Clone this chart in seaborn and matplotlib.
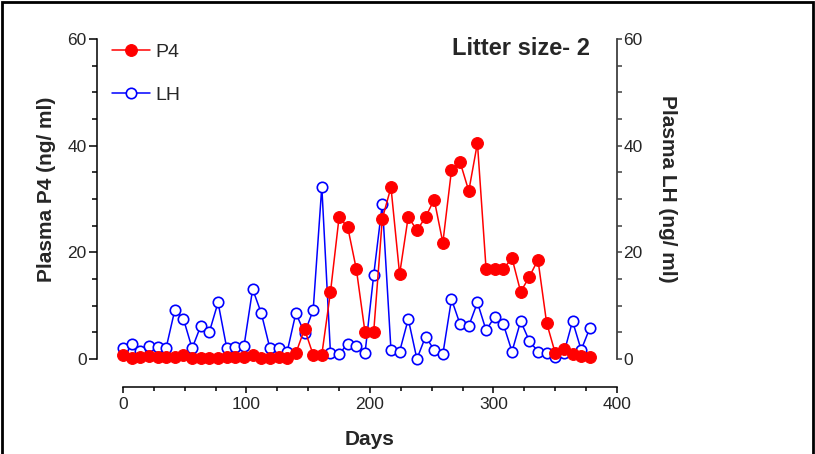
import matplotlib
matplotlib.use("Agg")
import matplotlib.pyplot as plt
from matplotlib.patches import Rectangle
import seaborn as sns

# sampling days (weekly)
days = [0, 7, 14, 21, 28, 35, 42, 49, 56, 63, 70, 77, 84, 91, 98, 105, 112,
        119, 126, 133, 140, 147, 154, 161, 168, 175, 182, 189, 196, 203, 210,
        217, 224, 231, 238, 245, 252, 259, 266, 273, 280, 287, 294, 301, 308,
        315, 322, 329, 336, 343, 350, 357, 364, 371, 378]

# plasma P4 (ng/ml)
p4 = [0.8, 0.1, 0.3, 0.5, 0.4, 0.3, 0.3, 0.7, 0.2, 0.2,
      0.2, 0.1, 0.3, 0.3, 0.4, 0.7, 0.2, 0.2, 0.3, 0.2,
      1.1, 5.6, 0.8, 0.8, 12.5, 26.6, 24.7, 16.8, 5.0, 5.0,
      26.3, 32.2, 15.9, 26.7, 24.1, 26.6, 29.9, 21.8, 35.4, 36.9,
      31.5, 40.5, 16.9, 16.8, 16.9, 18.9, 12.6, 15.4, 18.6, 6.8,
      1.1, 1.9, 1.0, 0.5, 0.3]

# plasma LH (ng/ml)
lh = [2.0, 2.9, 1.5, 2.4, 2.3, 2.1, 9.2, 7.5, 2.0, 6.2,
      5.1, 10.6, 2.1, 2.3, 2.4, 13.1, 8.6, 2.0, 2.0, 1.4,
      8.6, 4.9, 9.1, 32.3, 1.2, 0.9, 2.9, 2.4, 1.1, 15.7,
      29.1, 1.7, 1.4, 7.5, 0.0, 4.2, 1.7, 0.9, 11.2, 6.5,
      6.2, 10.6, 5.4, 7.9, 6.5, 1.4, 7.1, 3.4, 1.4, 1.2,
      0.3, 1.1, 7.1, 1.7, 5.8]

x_major = [0, 100, 200, 300, 400]
x_minor = [25, 50, 75, 125, 150, 175, 225, 250, 275, 325, 350, 375]
y_major = [0, 20, 40, 60]
y_minor = [5, 10, 15, 25, 30, 35, 45, 50, 55]

sns.set_style("ticks")
plt.rcParams["font.family"] = ["Liberation Sans", "DejaVu Sans"]

W, H = 815, 454
fig = plt.figure(figsize=(W / 100, H / 100), dpi=100)
ax = fig.add_axes([97 / W, 1 - 387 / H, 520 / W, 348 / H])

sns.lineplot(x=days, y=lh, ax=ax, color="#0000FF", lw=1.1, marker="o",
             markersize=7.5, markerfacecolor="white", markeredgecolor="#0000FF",
             markeredgewidth=1.2, label="LH")
sns.lineplot(x=days, y=p4, ax=ax, color="#FF0000", lw=1.1, marker="o",
             markersize=8.5, markerfacecolor="#FF0000", markeredgecolor="#FF0000",
             label="P4")

ax.set_xlim(-21, 400)
ax.set_ylim(-5.25, 60)
ax.set_xticks(x_major)
ax.set_xticks(x_minor, minor=True)
ax.set_yticks(y_major)
ax.set_yticks(y_minor, minor=True)

for s in ["top", "right"]:
    ax.spines[s].set_visible(False)
ax.spines["left"].set_bounds(0, 60)
ax.spines["bottom"].set_bounds(0, 400)
for s in ["left", "bottom"]:
    ax.spines[s].set_linewidth(1.1)
    ax.spines[s].set_color("black")

ax.tick_params(axis="y", which="major", direction="out", length=5.5, width=1.1,
               labelsize=12.5, pad=2, color="black")
ax.tick_params(axis="y", which="minor", direction="out", length=3.6, width=1.1,
               color="black")
ax.tick_params(axis="x", which="major", direction="out", length=4.5, width=1.1,
               labelsize=12.5, pad=3, color="black")
ax.tick_params(axis="x", which="minor", direction="out", length=3, width=1.1,
               color="black")

ax.set_xlabel("Days", fontsize=15, fontweight="bold", va="top")
ax.xaxis.set_label_coords(0.525, -0.124)
ax.set_ylabel("Plasma P4 (ng/ ml)", fontsize=15, fontweight="bold", va="center")
ax.yaxis.set_label_coords(-0.098, 0.569)

# right axis for LH (same scale)
ax2 = ax.twinx()
ax2.set_ylim(-5.25, 60)
ax2.set_yticks(y_major)
ax2.set_yticks(y_minor, minor=True)
for s in ["top", "left", "bottom"]:
    ax2.spines[s].set_visible(False)
ax2.spines["right"].set_bounds(0, 60)
ax2.spines["right"].set_linewidth(1.3)
ax2.spines["right"].set_color("#404040")
ax2.tick_params(axis="y", which="major", direction="out", length=3.5, width=1.1,
                labelsize=12.5, pad=1, color="#404040")
ax2.tick_params(axis="y", which="minor", direction="out", length=3.5, width=1.1,
                color="#404040")
ax2.set_ylabel("Plasma LH (ng/ ml)", fontsize=15, fontweight="bold",
               rotation=-90, va="center")
ax2.yaxis.set_label_coords(1.098, 0.569)

handles, labels = ax.get_legend_handles_labels()
order = [labels.index("P4"), labels.index("LH")]
ax.legend([handles[i] for i in order], [labels[i] for i in order],
          loc="upper left", bbox_to_anchor=(0.028, 0.988), frameon=False,
          fontsize=14, handlelength=2.0, handletextpad=0.25, labelspacing=1.3,
          borderaxespad=0, borderpad=0)

ax.text(0.948, 0.954, "Litter size- 2", transform=ax.transAxes, ha="right",
        va="baseline", fontsize=17, fontweight="bold")

# outer frame
fig.patches.append(Rectangle((1.5 / W, -0.05), 811 / W, 1.05 - 1.5 / H,
                             transform=fig.transFigure, fill=False,
                             edgecolor="black", linewidth=2))

fig.savefig("out.png", dpi=100)
